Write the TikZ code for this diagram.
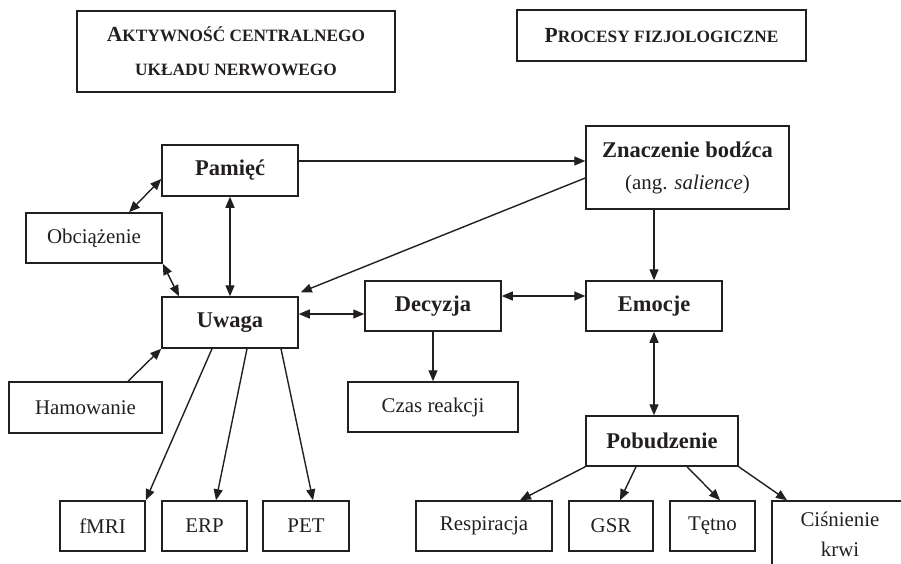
\documentclass[tikz,border=0pt]{standalone}
\usepackage{fontspec}
\setmainfont{Liberation Serif}
\usetikzlibrary{arrows.meta}
\definecolor{ink}{HTML}{231F20}
% fake small capitals for the two heading boxes
\newcommand{\smc}[1]{{\fontsize{17.3}{34}\selectfont #1}}
\newcommand{\bigc}[1]{{\fontsize{21.5}{34}\selectfont #1}}
\tikzset{
  box/.style={draw=ink, line width=1.5pt, inner sep=0pt, text=ink,
    font=\fontsize{20.9}{30}\selectfont, align=center},
  bbox/.style={box, font=\bfseries\fontsize{22.5}{34}\selectfont},
  arr/.style={draw=ink, line width=1.4pt, -{Triangle[length=11pt,width=9pt]}},
  darr/.style={draw=ink, line width=1.4pt, {Triangle[length=11pt,width=9pt]}-{Triangle[length=11pt,width=9pt]}},
}
\begin{document}
\begin{tikzpicture}[x=1pt, y=-1pt]
\useasboundingbox (0,0) rectangle (901,564);

% heading boxes
\node[box, minimum width=318pt, minimum height=81pt, font=\bfseries\fontsize{17}{34}\selectfont]
  (cns) at (236,51.5) {\bigc{A}\smc{KTYWNOŚĆ CENTRALNEGO}\\\smc{UKŁADU NERWOWEGO}};
\node[box, minimum width=289pt, minimum height=51pt, font=\bfseries\fontsize{17}{34}\selectfont]
  (fiz) at (661.5,35.5) {\bigc{P}\smc{ROCESY FIZJOLOGICZNE}};

% cognitive side
\node[bbox, minimum width=136pt, minimum height=51pt] (pam) at (230,170.5) {Pamięć};
\node[box,  minimum width=136pt, minimum height=50pt] (obc) at (94,238) {Obciążenie};
\node[bbox, minimum width=136pt, minimum height=51pt] (uwa) at (230,322.5) {Uwaga};
\node[box,  minimum width=153pt, minimum height=51pt] (ham) at (85.5,407.5) {Hamowanie};
\node[box,  minimum width=85pt,  minimum height=50pt] (fmri) at (102.5,526) {fMRI};
\node[box,  minimum width=85pt,  minimum height=50pt] (erp) at (204.5,526) {ERP};
\node[box,  minimum width=86pt,  minimum height=50pt] (pet) at (306,526) {PET};
\node[bbox, minimum width=136pt, minimum height=50pt] (dec) at (433,306) {Decyzja};
\node[box,  minimum width=170pt, minimum height=50pt] (czas) at (433,407) {Czas reakcji};

% physiological side
\node[bbox, minimum width=203pt, minimum height=83pt] (zna) at (687.5,167.5)
  {Znaczenie bodźca\\[-2pt]{\mdseries\fontsize{20.9}{30}\selectfont (ang. \textit{salience})}};
\node[bbox, minimum width=136pt, minimum height=50pt] (emo) at (654,306) {Emocje};
\node[bbox, minimum width=152pt, minimum height=50pt] (pob) at (662,441) {Pobudzenie};
\node[box,  minimum width=136pt, minimum height=50pt] (res) at (484,526) {Respiracja};
\node[box,  minimum width=84pt,  minimum height=50pt] (gsr) at (611,526) {GSR};
\node[box,  minimum width=85pt,  minimum height=50pt] (tet) at (712.5,526) {Tętno};
\begin{scope}
  \clip (0,0) rectangle (901,564);
  \node[box, minimum width=136pt, minimum height=67pt] (cis) at (840,534.5) {Ciśnienie\\krwi};
\end{scope}

% connectors
\draw[arr] ([yshift=9.5pt]pam.east) -- ([yshift=6.5pt]zna.west);
\draw[arr] ([yshift=-10.5pt]zna.west) -- ([xshift=2pt,yshift=4pt]uwa.north east);
\draw[arr] (emo.north |- zna.south) -- (emo.north);
\draw[darr] ([yshift=10pt]dec.east) -- ([yshift=10pt]emo.west);
\draw[darr] ([yshift=8.5pt]uwa.east) -- ([yshift=8.5pt]uwa.east -| dec.west);
\draw[arr] (dec.south) -- (czas.north);
\draw[darr] (emo.south) -- (emo.south |- pob.north);
\draw[darr] (pam.south) -- (uwa.north);
\draw[darr] ([xshift=35pt]obc.north) -- ([yshift=-8.5pt]pam.west);
\draw[darr] (obc.south east) -- ([xshift=-51pt]uwa.north);
\draw[arr] ([xshift=42.5pt]ham.north) -- (uwa.south west);
\draw[arr] ([xshift=-18pt]uwa.south) -- (fmri.north east);
\draw[arr] ([xshift=17pt]uwa.south) -- ([xshift=11.5pt]erp.north);
\draw[arr] ([xshift=51pt]uwa.south) -- ([xshift=7pt]pet.north);
\draw[arr] (pob.south west) -- ([xshift=36pt]res.north);
\draw[arr] ([xshift=-26pt]pob.south) -- ([xshift=9pt]gsr.north);
\draw[arr] ([xshift=25pt]pob.south) -- ([xshift=7.5pt]tet.north);
\draw[arr] (pob.south east) -- ([xshift=-53pt]cis.north);
\end{tikzpicture}
\end{document}
